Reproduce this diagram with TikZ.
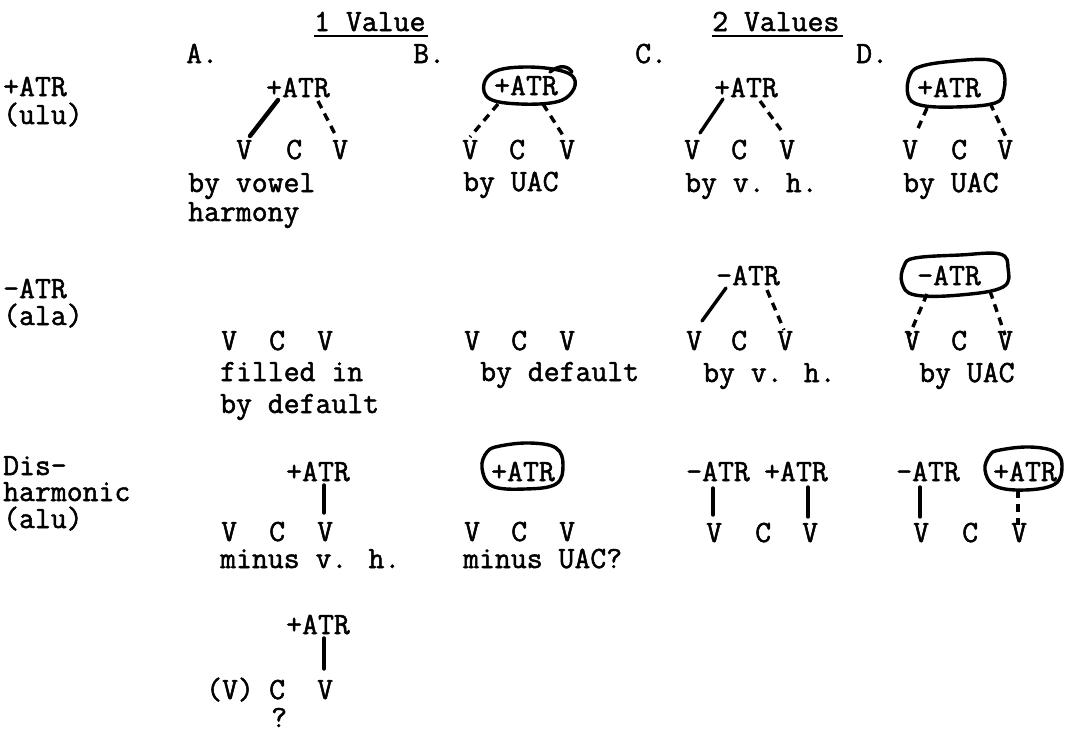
\documentclass[tikz,border=0pt]{standalone}
\usepackage{fontspec}
\newfontfamily\twfont{Latin Modern Mono}[FakeBold=1.6]
\usetikzlibrary{calc}
\tikzset{
  tw/.style={font=\twfont\fontsize{30.86}{32}\selectfont, inner sep=0pt, anchor=base west},
  assoc/.style={line width=3.4pt, line cap=round},
  thickassoc/.style={line width=4.4pt, line cap=round},
  dassoc/.style={line width=3.4pt, dash pattern=on 8pt off 6pt},
  loopline/.style={line width=3.4pt, line cap=round, line join=round},
  uline/.style={line width=2pt}
}
\begin{document}
\begin{tikzpicture}[x=1pt,y=-1pt]
\useasboundingbox (0,0) rectangle (1066,737);
% headers
\node[tw] (h1) at (314,31) {1 Value};
\node[tw] (h2) at (712,31) {2 Values};
\draw[uline] ([yshift=-5pt]h1.base west) -- ([yshift=-5pt,xshift=2pt]h1.base east);
\draw[uline] ([yshift=-5pt]h2.base west) -- ([yshift=-5pt,xshift=3pt]h2.base east);
\node[tw] (lA) at (186,63) {A.};
\node[tw] (lB) at (413,63) {B.};
\node[tw] (lC) at (635,63) {C.};
\node[tw] (lD) at (856,63) {D.};
% left column
\node[tw] (r1a) at (3,96) {+ATR};
\node[tw] (r1b) at (3,124) {(ulu)};
\node[tw] (r2a) at (3,298) {–ATR};
\node[tw] (r2b) at (3,325) {(ala)};
\node[tw] (r3a) at (3,475) {Dis–};
\node[tw] (r3b) at (3,501) {harmonic};
\node[tw] (r3c) at (3,528) {(alu)};

% ---------- row 1 ----------
% A
\node[tw] (tA1) at (266,97) {+ATR};
\node[tw] (vA1) at (236,159) {V};
\node[tw] (cA1) at (286,159) {C};
\node[tw] (wA1) at (332,159) {V};
\node[tw] (xA1) at (188,192) {by vowel};
\node[tw] (yA1) at (188,221) {harmony};
\draw[thickassoc] ($(tA1.base west)+(12,3)$) -- ($(vA1.base west)+(14,-23)$);
\draw[dassoc] ($(tA1.base west)+(52,4)$) -- ($(wA1.base west)+(5,-21)$);
% B
\node[tw] (tB1) at (494,95) {+ATR};
\node[tw] (vB1) at (462,159) {V};
\node[tw] (cB1) at (509,159) {C};
\node[tw] (wB1) at (559,159) {V};
\node[tw] (xB1) at (463,191) {by UAC};
\draw[loopline] plot[smooth cycle, tension=0.65] coordinates {(558,70) (525,67) (496,71) (484,84) (490,99) (520,104) (556,102) (572,92) (574,78)};
\draw[loopline] (550,72) .. controls (560,64) and (568,66) .. (572,72);
\draw[dassoc] ($(tB1.base west)+(4,9)$) -- ($(vB1.base west)+(8,-22)$);
\draw[dassoc] ($(tB1.base west)+(49,9)$) -- ($(wB1.base west)+(5,-22)$);
% C
\node[tw] (tC1) at (714,97) {+ATR};
\node[tw] (vC1) at (684,159) {V};
\node[tw] (cC1) at (731,159) {C};
\node[tw] (wC1) at (779,159) {V};
\node[tw] (xC1) at (685,192) {by v. h.};
\draw[assoc] ($(tC1.base west)+(9,2)$) -- ($(vC1.base west)+(16,-26)$);
\draw[dassoc] ($(tC1.base west)+(46,4)$) -- ($(wC1.base west)+(2,-29)$);
% D
\node[tw] (tD1) at (917,97) {+ATR};
\node[tw] (vD1) at (902,159) {V};
\node[tw] (cD1) at (951,159) {C};
\node[tw] (wD1) at (997,159) {V};
\node[tw] (xD1) at (903,192) {by UAC};
\draw[loopline] plot[smooth cycle, tension=0.65] coordinates {(922,66) (955,61) (990,60) (1003,70) (1004,90) (995,103) (955,107) (920,105) (908,95) (910,75)};
\draw[dassoc] ($(tD1.base west)+(10,11)$) -- ($(vD1.base west)+(14,-26)$);
\draw[dassoc] ($(tD1.base west)+(73,6)$) -- ($(wD1.base west)+(9,-22)$);

% ---------- row 2 ----------
% A
\node[tw] (vA2) at (221,350) {V};
\node[tw] (cA2) at (269,350) {C};
\node[tw] (wA2) at (317,350) {V};
\node[tw] (xA2) at (220,381) {filled in};
\node[tw] (yA2) at (220,413) {by default};
% B
\node[tw] (vB2) at (464,350) {V};
\node[tw] (cB2) at (511,350) {C};
\node[tw] (wB2) at (559,350) {V};
\node[tw] (xB2) at (480,381) {by default};
% C
\node[tw] (tC2) at (716,285) {–ATR};
\node[tw] (vC2) at (686,350) {V};
\node[tw] (cC2) at (731,350) {C};
\node[tw] (wC2) at (777,350) {V};
\node[tw] (xC2) at (703,382) {by v. h.};
\draw[assoc] ($(tC2.base west)+(10,3)$) -- ($(vC2.base west)+(16,-29)$);
\draw[dassoc] ($(tC2.base west)+(51,5)$) -- ($(wC2.base west)+(7,-20)$);
% D
\node[tw] (tD2) at (917,285) {–ATR};
\node[tw] (vD2) at (904,350) {V};
\node[tw] (cD2) at (951,350) {C};
\node[tw] (wD2) at (997,350) {V};
\node[tw] (xD2) at (919,382) {by UAC};
\draw[loopline] plot[smooth cycle, tension=0.65] coordinates {(915,258) (960,255) (1000,254) (1008,268) (1003,287) (960,295) (915,295) (902,283) (904,266)};
\draw[dassoc] ($(tD2.base west)+(10,9)$) -- ($(vD2.base west)+(5,-14)$);
\draw[dassoc] ($(tD2.base west)+(73,6)$) -- ($(wD2.base west)+(8,-15)$);

% ---------- row 3 ----------
% A
\node[tw] (tA3) at (286,481) {+ATR};
\node[tw] (vA3) at (221,541) {V};
\node[tw] (cA3) at (269,541) {C};
\node[tw] (wA3) at (317,541) {V};
\node[tw] (xA3) at (220,568) {minus v. h.};
\draw[assoc] ($(tA3.base west)+(38,4)$) -- ($(wA3.base west)+(7,-28)$);
% B
\node[tw] (tB3) at (491,481) {+ATR};
\node[tw] (vB3) at (464,541) {V};
\node[tw] (cB3) at (511,541) {C};
\node[tw] (wB3) at (559,541) {V};
\node[tw] (xB3) at (463,568) {minus UAC?};
\draw[loopline] plot[smooth cycle, tension=0.65] coordinates {(500,446) (530,443) (556,448) (563,465) (556,484) (525,489) (492,486) (482,468) (487,452)};
% C
\node[tw] (tC3m) at (686,481) {–ATR};
\node[tw] (tC3p) at (764,481) {+ATR};
\node[tw] (vC3) at (706,542) {V};
\node[tw] (cC3) at (755,542) {C};
\node[tw] (wC3) at (802,542) {V};
\draw[assoc] ($(tC3m.base west)+(27,7)$) -- ($(vC3.base west)+(7,-27)$);
\draw[assoc] ($(tC3p.base west)+(44,6)$) -- ($(wC3.base west)+(6,-25)$);
% D
\node[tw] (tD3m) at (896,481) {–ATR};
\node[tw] (tD3p) at (993,481) {+ATR};
\node[tw] (vD3) at (913,542) {V};
\node[tw] (cD3) at (962,542) {C};
\node[tw] (wD3) at (1011,542) {V};
\draw[loopline] plot[smooth cycle, tension=0.65] coordinates {(1000,450) (1030,447) (1055,452) (1062,466) (1055,484) (1025,490) (995,486) (985,470) (990,455)};
\draw[assoc] ($(tD3m.base west)+(24,6)$) -- ($(vD3.base west)+(7,-25)$);
\draw[dassoc] ($(tD3p.base west)+(25,9)$) -- ($(wD3.base west)+(7,-17)$);

% ---------- row 4 ----------
\node[tw] (tA4) at (286,634) {+ATR};
\node[tw] (pA4) at (206,699) {(V)};
\node[tw] (cA4) at (269,699) {C};
\node[tw] (wA4) at (317,699) {V};
\node[tw] (qA4) at (271,727) {?};
\draw[assoc] ($(tA4.base west)+(38,4)$) -- ($(wA4.base west)+(7,-30)$);
\end{tikzpicture}
\end{document}
